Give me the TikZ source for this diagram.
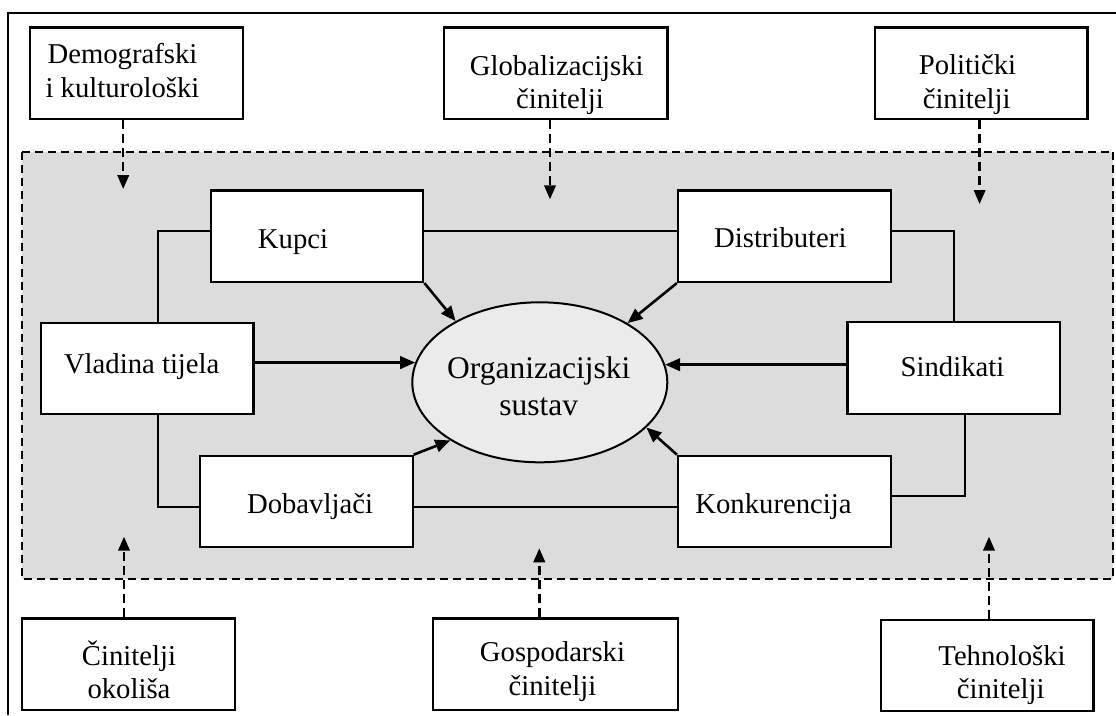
\documentclass[tikz,border=0pt]{standalone}
\usepackage{fontspec}
\setmainfont{Liberation Serif}
\usetikzlibrary{arrows.meta,shapes.geometric}
\definecolor{zone}{RGB}{220,220,220}
\definecolor{ovalfill}{RGB}{235,235,235}
\begin{document}
\begin{tikzpicture}[x=1pt,y=-1pt,
  box/.style={draw=black, fill=white, line width=2.2pt, inner sep=0pt,
    minimum width=#1, minimum height=91.5pt},
  box/.default=212.6pt,
  txt/.style={inner sep=0pt, anchor=base, font=\fontsize{28.7}{33}\selectfont},
  bigtxt/.style={inner sep=0pt, anchor=base, font=\fontsize{31.5}{36}\selectfont},
  link/.style={line width=2pt},
  arr/.style={line width=2.6pt, -{Triangle[length=15pt,width=12.5pt]}},
  darr/.style={line width=2.4pt, dash pattern=on 9pt off 5pt, -{Triangle[length=14pt,width=11.5pt]}},
  zonestyle/.style={fill=zone, draw=black, line width=2pt, dash pattern=on 8pt off 5pt},
]
\useasboundingbox (0,0) rectangle (1116,715);
\fill[white] (0,0) rectangle (1116,715);

% outer frame (partly cut)
\draw[line width=2pt] (8,715) -- (8,13.3) -- (1116,13.3);

% environment zone
\draw[zonestyle] (22,151.7) rectangle (1113,579);

% outer factor boxes
\node[box=213pt] (demo) at (136.5,73.2) {};
\node[box=223.4pt] (glob) at (555.7,73.2) {};
\node[box=212.8pt] (poli) at (981,73.2) {};
\node[box=212.6pt] (cin) at (128.3,664.2) {};
\node[box=245pt] (gosp) at (555.8,664.2) {};
\node[box=212.5pt] (teh) at (987.3,665.5) {};

% inner boxes
\node[box] (kupci) at (317,236.2) {};
\node[box] (dist) at (784.3,236.2) {};
\node[box] (vlad) at (147.2,368.4) {};
\node[box] (sind) at (953.7,368) {};
\node[box] (dob) at (306.3,501.5) {};
\node[box] (konk) at (784.3,501.5) {};

% central ellipse
\node[ellipse, draw=black, fill=ovalfill, line width=2pt, inner sep=0pt,
  minimum width=255pt, minimum height=160pt] (org) at (539.8,382.3) {};

% texts
\node[txt] (demo1) at (122.5,63.5) {Demografski};
\node[txt] (demo2) at (122.5,97.7) {i kulturološki};
\node[txt] (glob1) at (556.8,75) {Globalizacijski};
\node[txt] (glob2) at (560,108.3) {činitelji};
\node[txt] (poli1) at (967.5,74.5) {Politički};
\node[txt] (poli2) at (966.6,108.3) {činitelji};
\node[txt] (kupcit) at (293,248.3) {Kupci};
\node[txt] (distt) at (780.3,247) {Distributeri};
\node[txt] (vladt) at (141.7,373.3) {Vladina tijela};
\node[txt] (sindt) at (952.5,376.7) {Sindikati};
\node[txt] (dobt) at (310,513.3) {Dobavljači};
\node[txt] (konkt) at (773.5,513.3) {Konkurencija};
\node[txt] (cin1) at (129,665) {Činitelji};
\node[txt] (cin2) at (129,698.3) {okoliša};
\node[txt] (gosp1) at (552.5,661.7) {Gospodarski};
\node[txt] (gosp2) at (552.5,695) {činitelji};
\node[txt] (teh1) at (1002,665) {Tehnološki};
\node[txt] (teh2) at (1000.7,698) {činitelji};
\node[bigtxt] (org1) at (538.7,378.3) {Organizacijski};
\node[bigtxt] (org2) at (538.7,415) {sustav};

% connector ring
\coordinate (c1) at (157.8,230.7);
\coordinate (c2) at (953.5,230.7);
\coordinate (c3) at (157.8,506.7);
\coordinate (c4) at (964.5,496);
\draw[link] (kupci.west |- c1) -- (c1) -- (vlad.north -| c1);
\draw[link] (kupci.east |- c1) -- (dist.west |- c1);
\draw[link] (dist.east |- c2) -- (c2) -- (sind.north -| c2);
\draw[link] (vlad.south -| c3) -- (c3) -- (dob.west |- c3);
\draw[link] (dob.east |- c3) -- (konk.west |- c3);
\draw[link] (konk.east |- c4) -- (c4) -- (sind.south -| c4);

% arrows into the organisation
\draw[arr] (kupci.south east) -- (org.144.8);
\draw[arr] (dist.south west) -- (org.34);
\draw[arr] (dob.north east) -- (org.213.2);
\draw[arr] (konk.north west) -- (org.337);
\draw[arr] (vlad.east |- org.171.8) -- (org.171.8);
\draw[arr] (sind.west |- org.8.2) -- (org.8.2);

% dashed influence arrows
\coordinate (tdemo) at (123.2,189);
\coordinate (tglob) at (550,199.3);
\coordinate (tpoli) at (979.6,204);
\coordinate (tcin) at (124,536.7);
\coordinate (tgosp) at (539.3,548.3);
\coordinate (tteh) at (989,536.7);
\draw[darr] (demo.south -| tdemo) -- (tdemo);
\draw[darr] (glob.south -| tglob) -- (tglob);
\draw[darr] (poli.south -| tpoli) -- (tpoli);
\draw[darr] (cin.north -| tcin) -- (tcin);
\draw[darr] (gosp.north -| tgosp) -- (tgosp);
\draw[darr] (teh.north -| tteh) -- (tteh);
\end{tikzpicture}
\end{document}
